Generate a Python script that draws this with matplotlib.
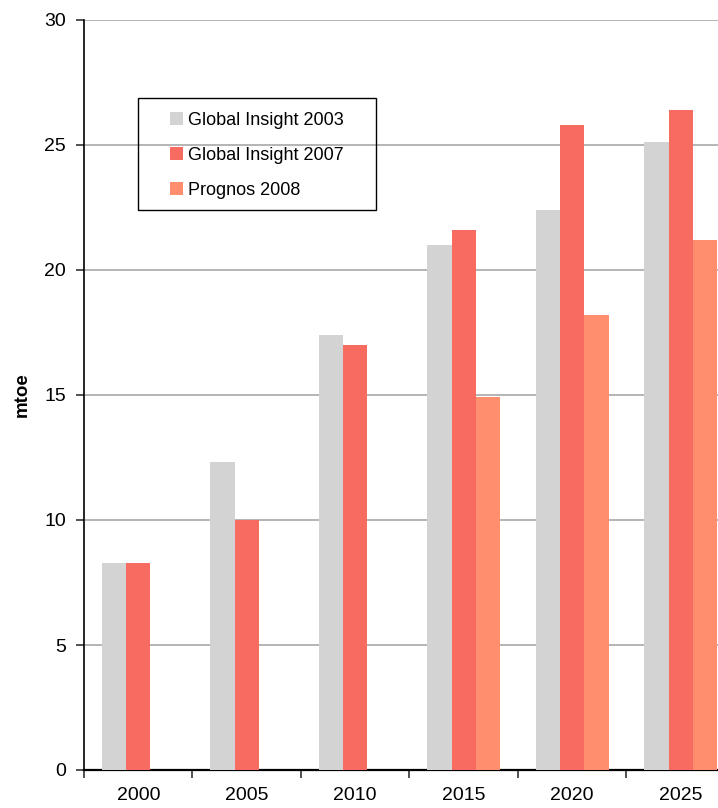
import matplotlib
matplotlib.use("Agg")
import matplotlib.pyplot as plt
from matplotlib.patches import Rectangle
import numpy as np

years = ["2000", "2005", "2010", "2015", "2020", "2025"]
global_insight_2003 = [8.3, 12.3, 17.4, 21.0, 22.4, 25.1]
global_insight_2007 = [8.3, 10.0, 17.0, 21.6, 25.8, 26.4]
prognos_2008 = [np.nan, np.nan, np.nan, 14.9, 18.2, 21.2]
series_labels = ["Global Insight 2003", "Global Insight 2007", "Prognos 2008"]
colors = ["#d3d3d3", "#f76b61", "#ff8e6e"]

plt.rcParams["font.family"] = ["Liberation Sans", "DejaVu Sans"]

W, H = 718, 808
fig = plt.figure(figsize=(W / 100, H / 100), dpi=100)
# plot area runs past the right edge of the canvas
ax = fig.add_axes([84 / W, (H - 770) / H, 651 / W, 750 / H])

x = np.arange(len(years)) + 0.5
bw = 0.225
for k, (vals, lab, col) in enumerate(zip([global_insight_2003, global_insight_2007, prognos_2008],
                                         series_labels, colors)):
    ax.bar(x + (k - 1) * bw, vals, width=bw, color=col, label=lab, zorder=3)

ax.set_xlim(0, len(years))
ax.set_ylim(0, 30)
ax.set_yticks(np.arange(0, 31, 5))
ax.yaxis.grid(True, color="#a8a8a8", linewidth=1.2, zorder=0)
ax.set_axisbelow(True)

ax.set_xticks(x)
ax.set_xticklabels(years)
ax.set_xticks(np.arange(0, len(years) + 1), minor=True)
ax.tick_params(axis="x", which="major", length=0, pad=12, labelsize=14)
ax.tick_params(axis="x", which="minor", length=6, width=1.2, direction="out", color="#333333")
ax.tick_params(axis="y", length=6, width=1.2, pad=7, labelsize=14, color="#333333")

for s in ["top", "right"]:
    ax.spines[s].set_visible(False)
ax.spines["left"].set_linewidth(1.2)
ax.spines["bottom"].set_linewidth(1.6)

ax.set_ylabel("mtoe", fontsize=13.5, fontweight="bold", labelpad=10)

# legend entries without their own frame, boxed separately
leg = fig.legend(loc="upper left", bbox_to_anchor=(170 / W, 1 - 112 / H),
                 fontsize=13, frameon=False,
                 handlelength=0.7, handleheight=0.7, handletextpad=0.3,
                 labelspacing=1.0, borderpad=0, borderaxespad=0)
fig.patches.append(Rectangle((138 / W, 1 - 210 / H), (376 - 138) / W, (210 - 98) / H,
                             transform=fig.transFigure, fill=False,
                             edgecolor="black", linewidth=1.0, zorder=5))

fig.savefig("out.png", dpi=100)
